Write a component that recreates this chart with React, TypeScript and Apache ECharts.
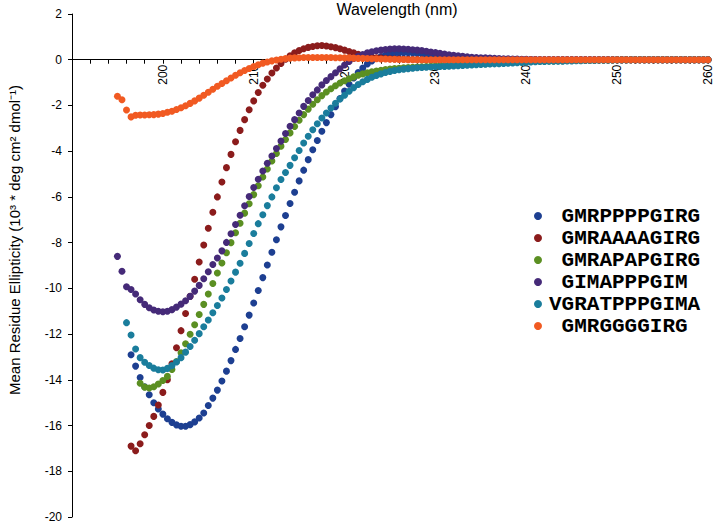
import React, { useEffect, useRef } from "react";
import * as echarts from "echarts";

// Wavelength sampling step (nm) of the CD spectra
const STEP = 0.5;

const seriesNames = [
  "GMRPPPPGIRG",
  "GMRAAAAGIRG",
  "GMRAPAPGIRG",
  "GIMAPPPGIM",
  "VGRATPPPGIMA",
  "GMRGGGGIRG",
];
const seriesColors = ["#1d3f91", "#8b1c1c", "#5b8f22", "#452a78", "#1a7d9c", "#f15a22"];
const seriesStart = [196.5, 196.5, 197.5, 195, 196, 195];

// GMRPPPPGIRG (from 196.5 nm)
const blueVals = [
  -12.9, -13.4, -13.9, -14.3, -14.65, -15.0, -15.28, -15.5, -15.7, -15.86, -15.97, -16.03, -16.03,
  -15.96, -15.84, -15.67, -15.45, -15.12, -14.8, -14.45, -14.05, -13.62, -13.16, -12.67, -12.19,
  -11.68, -11.17, -10.64, -10.09, -9.53, -8.98, -8.42, -7.87, -7.31, -6.81, -6.29, -5.8, -5.3,
  -4.83, -4.37, -3.94, -3.53, -3.13, -2.75, -2.4, -2.05, -1.7, -1.37, -1.07, -0.8, -0.56, -0.36,
  -0.19, -0.05, 0.06, 0.14, 0.2, 0.25, 0.28, 0.3, 0.31, 0.31, 0.3, 0.28, 0.26, 0.23, 0.2, 0.18,
  0.15, 0.13, 0.11, 0.09, 0.08, 0.06, 0.05, 0.04, 0.03, 0.03, 0.02, 0.02, 0.01, 0.01,
  0, 0, 0, 0, 0, 0, 0, 0, 0, 0, 0, 0, 0, 0, 0, 0, 0, 0, 0, 0, 0, 0, 0, 0, 0, 0, 0, 0, 0, 0,
  0, 0, 0, 0, 0, 0, 0, 0, 0, 0, 0, 0, 0, 0, 0, 0, 0,
];

// GMRAAAAGIRG (from 196.5 nm)
const redVals = [
  -16.9, -17.1, -16.8, -16.4, -16.0, -15.6, -15.1, -14.55, -14.0, -13.3, -12.6, -11.85, -11.1,
  -10.35, -9.6, -8.85, -8.1, -7.37, -6.67, -6.0, -5.35, -4.72, -4.14, -3.59, -3.09, -2.62, -2.19,
  -1.8, -1.43, -1.12, -0.84, -0.58, -0.36, -0.16, 0.02, 0.17, 0.3, 0.4, 0.48, 0.54, 0.58, 0.61,
  0.62, 0.6, 0.57, 0.53, 0.48, 0.42, 0.36, 0.3, 0.24, 0.19, 0.15, 0.12, 0.09, 0.07, 0.05, 0.04,
  0.03, 0.03, 0.02, 0.02, 0.01, 0.01,
  0, 0, 0, 0, 0, 0, 0, 0, 0, 0, 0, 0, 0, 0, 0, 0, 0, 0, 0, 0, 0, 0, 0, 0, 0, 0, 0, 0, 0, 0,
  0, 0, 0, 0, 0, 0, 0, 0, 0, 0, 0, 0, 0, 0, 0, 0, 0, 0, 0, 0, 0, 0, 0, 0, 0, 0, 0, 0, 0, 0,
  0, 0, 0, 0,
];

// GMRAPAPGIRG (from 197.5 nm)
const greenVals = [
  -14.15, -14.32, -14.36, -14.3, -14.18, -14.03, -13.85, -13.55, -13.2, -12.82, -12.42, -12.01,
  -11.59, -11.14, -10.7, -10.25, -9.79, -9.33, -8.89, -8.44, -8.0, -7.57, -7.15, -6.71, -6.3,
  -5.9, -5.51, -5.13, -4.78, -4.43, -4.1, -3.78, -3.49, -3.2, -2.92, -2.65, -2.4, -2.16, -1.95,
  -1.75, -1.57, -1.41, -1.27, -1.14, -1.02, -0.92, -0.83, -0.75, -0.68, -0.62, -0.57, -0.53,
  -0.49, -0.46, -0.43, -0.41, -0.39, -0.37, -0.35, -0.34, -0.33, -0.32, -0.31, -0.3, -0.29,
  -0.28, -0.27, -0.26, -0.25, -0.24, -0.23, -0.22, -0.21, -0.2, -0.19, -0.18, -0.17, -0.16,
  -0.15, -0.14, -0.13, -0.12, -0.11, -0.1, -0.09, -0.08, -0.07, -0.07, -0.06, -0.06, -0.05,
  -0.05, -0.04, -0.04, -0.03, -0.03, -0.03, -0.02, -0.02, -0.02, -0.02, -0.01, -0.01, -0.01,
  -0.01, 0, 0, 0, 0, 0, 0, 0, 0, 0, 0, 0, 0, 0, 0, 0, 0, 0, 0, 0, 0, 0, 0,
];

// GIMAPPPGIM (from 195 nm)
const purpleVals = [
  -8.6, -9.25, -9.93, -10.05, -10.25, -10.5, -10.7, -10.85, -10.95, -11.0, -11.02, -11.0, -10.93,
  -10.82, -10.69, -10.54, -10.35, -10.12, -9.87, -9.58, -9.27, -8.96, -8.67, -8.36, -7.99, -7.61,
  -7.21, -6.8, -6.39, -5.98, -5.59, -5.23, -4.87, -4.53, -4.21, -3.88, -3.56, -3.23, -2.91, -2.62,
  -2.33, -2.04, -1.78, -1.53, -1.32, -1.1, -0.91, -0.74, -0.57, -0.4, -0.23, -0.08, 0.05, 0.15,
  0.23, 0.3, 0.35, 0.39, 0.42, 0.45, 0.47, 0.48, 0.48, 0.47, 0.46, 0.44, 0.42, 0.4, 0.37, 0.34,
  0.31, 0.28, 0.25, 0.22, 0.19, 0.17, 0.15, 0.13, 0.11, 0.1, 0.09, 0.08, 0.07, 0.06, 0.05, 0.04,
  0.04, 0.03, 0.03, 0.02, 0.02, 0.01, 0.01,
  0, 0, 0, 0, 0, 0, 0, 0, 0, 0, 0, 0, 0, 0, 0, 0, 0, 0, 0, 0, 0, 0, 0, 0, 0, 0, 0, 0, 0, 0,
  0, 0, 0, 0, 0, 0, 0, 0,
];

// VGRATPPPGIMA (from 196 nm)
const tealVals = [
  -11.5, -12.04, -12.65, -13.03, -13.23, -13.37, -13.49, -13.56, -13.57, -13.5, -13.38, -13.22,
  -13.03, -12.79, -12.54, -12.27, -11.98, -11.68, -11.38, -11.07, -10.75, -10.42, -10.05, -9.68,
  -9.29, -8.9, -8.47, -8.04, -7.6, -7.17, -6.78, -6.38, -6.0, -5.6, -5.24, -4.93, -4.62, -4.29,
  -3.97, -3.64, -3.35, -3.06, -2.8, -2.55, -2.33, -2.11, -1.9, -1.72, -1.55, -1.38, -1.22, -1.08,
  -0.96, -0.86, -0.77, -0.69, -0.62, -0.56, -0.51, -0.47, -0.44, -0.41, -0.39, -0.37, -0.35,
  -0.34, -0.33, -0.32, -0.31, -0.3, -0.29, -0.28, -0.27, -0.26, -0.25, -0.24, -0.23, -0.22,
  -0.21, -0.2, -0.19, -0.18, -0.17, -0.16, -0.15, -0.14, -0.13, -0.12, -0.11, -0.1, -0.09, -0.08,
  -0.08, -0.07, -0.07, -0.06, -0.06, -0.05, -0.05, -0.04, -0.04, -0.03, -0.03, -0.03, -0.02,
  -0.02, -0.02, -0.01, -0.01, -0.01, -0.01, 0, 0, 0, 0, 0, 0, 0, 0, 0, 0, 0, 0, 0, 0, 0, 0, 0, 0,
];

// GMRGGGGIRG (from 195 nm)
const orangeVals = [
  -1.6, -1.75, -2.2, -2.5, -2.43, -2.42, -2.42, -2.41, -2.4, -2.38, -2.35, -2.3, -2.25, -2.18,
  -2.1, -2.01, -1.91, -1.8, -1.68, -1.55, -1.42, -1.29, -1.16, -1.04, -0.92, -0.8, -0.68, -0.57,
  -0.47, -0.38, -0.3, -0.22, -0.15, -0.1, -0.05, -0.01, 0.02, 0.05, 0.07, 0.08, 0.09, 0.1, 0.1,
  0.1, 0.1, 0.1, 0.1, 0.1, 0.09, 0.09, 0.08, 0.08, 0.07, 0.06, 0.06, 0.05, 0.04, 0.04, 0.03, 0.03,
  0.02, 0.02, 0.01, 0.01,
  0, 0, 0, 0, 0, 0, 0, 0, 0, 0, 0, 0, 0, 0, 0, 0, 0, 0, 0, 0, 0, 0, 0, 0, 0, 0, 0, 0, 0, 0,
  0, 0, 0, 0, 0, 0, 0, 0, 0, 0, 0, 0, 0, 0, 0, 0, 0, 0, 0, 0, 0, 0, 0, 0, 0, 0, 0, 0, 0, 0,
  0, 0, 0, 0, 0, 0, 0,
];

const seriesValues = [blueVals, redVals, greenVals, purpleVals, tealVals, orangeVals];

const xAxisTitle = "Wavelength (nm)";
const yAxisTitle = "Mean Residue Ellipticity (10\u00B3 * deg cm\u00B2 dmol\u207B\u00B9)";

const X_MIN = 190;
const X_MAX = 260;
const Y_MIN = -20;
const Y_MAX = 2;

const W = 717;
const H = 523;
const GRID = { left: 72, right: 9, top: 14, bottom: 6 };

const FONT = "'Liberation Sans', Arial, sans-serif";
const MONO = "'Liberation Mono', 'Courier New', monospace";

export default function App() {
  const ref = useRef<HTMLDivElement>(null);

  useEffect(() => {
    if (!ref.current) return;
    const chart = echarts.init(ref.current, null, { renderer: "svg" });

    // distance from the bottom of the plot up to the y = 0 line (the x axis sits on zero)
    const plotH = H - GRID.top - GRID.bottom;
    const zeroFromBottom = (plotH * (0 - Y_MIN)) / (Y_MAX - Y_MIN);

    const series = seriesNames.map((name, si) => ({
      name,
      type: "scatter",
      symbol: "circle",
      symbolSize: 7,
      itemStyle: { color: seriesColors[si], opacity: 1 },
      emphasis: { disabled: true },
      data: seriesValues[si].map((v, i) => [seriesStart[si] + i * STEP, v]),
    }));

    const option = {
      animation: false,
      backgroundColor: "#ffffff",
      grid: { ...GRID, containLabel: false, outerBoundsMode: "none" },
      graphic: [
        {
          type: "text",
          x: 397,
          y: 1,
          style: {
            text: xAxisTitle,
            font: `16px ${FONT}`,
            fill: "#000",
            textAlign: "center",
            textVerticalAlign: "top",
          },
        },
        {
          type: "text",
          x: 14,
          y: 240,
          rotation: Math.PI / 2,
          style: {
            text: yAxisTitle,
            font: `15px ${FONT}`,
            fill: "#000",
            textAlign: "center",
            textVerticalAlign: "middle",
          },
        },
      ],
      legend: {
        orient: "vertical",
        left: 534,
        top: 205,
        padding: 0,
        itemWidth: 8,
        itemHeight: 8,
        itemGap: 0,
        icon: "circle",
        data: seriesNames,
        formatter: (name: string) => (name.length < 12 ? "\u00A0" + name : name),
        textStyle: {
          fontFamily: MONO,
          fontWeight: "bold",
          fontSize: 21,
          lineHeight: 22,
          color: "#000",
          padding: [0, 0, 0, 2],
        },
      },
      xAxis: {
        type: "value",
        min: X_MIN,
        max: X_MAX,
        interval: 10,
        offset: -zeroFromBottom,
        axisLine: { onZero: false, lineStyle: { color: "#000", width: 1 } },
        axisTick: { show: true, length: 4, lineStyle: { color: "#000" } },
        minorTick: { show: true, splitNumber: 5, length: 4, lineStyle: { color: "#000" } },
        splitLine: { show: false },
        axisLabel: {
          rotate: 90,
          showMinLabel: false,
          fontSize: 12,
          fontFamily: FONT,
          color: "#000",
          margin: 5,
        },
      },
      yAxis: {
        type: "value",
        min: Y_MIN,
        max: Y_MAX,
        interval: 2,
        axisLine: { show: true, onZero: false, lineStyle: { color: "#000", width: 1 } },
        axisTick: { show: true, length: 4, lineStyle: { color: "#000" } },
        splitLine: { show: false },
        axisLabel: { fontSize: 12, fontFamily: FONT, color: "#000", margin: 10 },
      },
      series,
    };

    chart.setOption(option as any);
    return () => chart.dispose();
  }, []);

  return (
    <div
      ref={ref}
      style={{ position: "absolute", left: 0, top: 0, width: W, height: H }}
    />
  );
}
